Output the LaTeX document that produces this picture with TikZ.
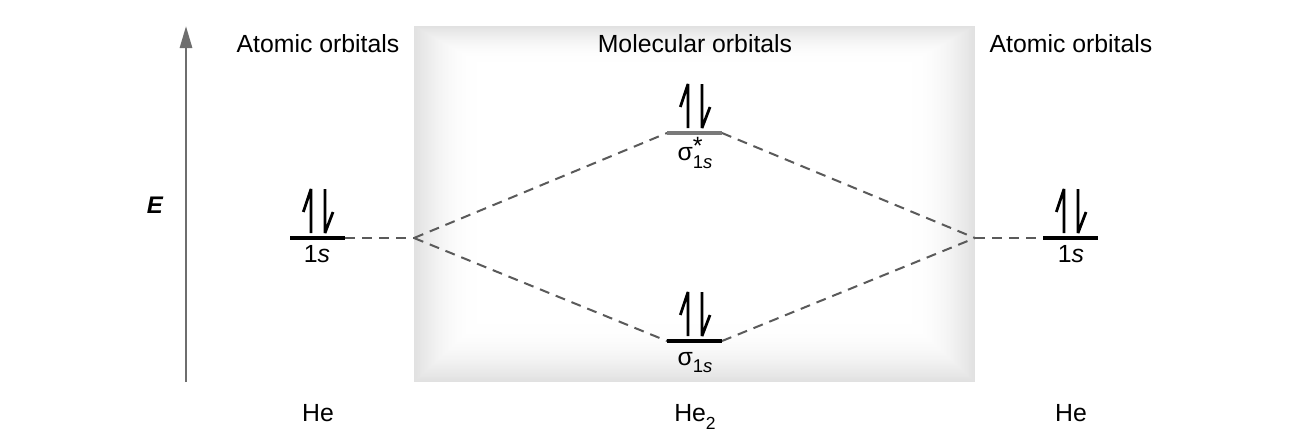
\documentclass[tikz,border=0pt]{standalone}
\usepackage{fontspec}
\setmainfont{Liberation Sans}
\usetikzlibrary{arrows.meta}
\begin{document}
\begin{tikzpicture}[x=1pt,y=-1pt,
  lbl/.style={font=\fontsize{24.8}{29}\selectfont, inner sep=0pt, anchor=base},
  level/.style={line width=4.5pt, black},
  levelstar/.style={line width=4.5pt, color={rgb,255:red,122;green,122;blue,122}},
  dashline/.style={line width=2pt, color={rgb,255:red,90;green,90;blue,90}, dash pattern=on 10pt off 7pt},
  spin/.style={line width=2.8pt, black, line join=bevel, line cap=butt},
  spinpair/.pic={
    \draw[spin] (21,-5) -- (21,-49) -- (13.3,-26);
    \draw[spin] (35,-49) -- (35,-5) -- (43,-26);
  }]
\useasboundingbox (0,0) rectangle (1300,439);
% shaded box
\fill[white] (414,26) rectangle (975,382);
\foreach \i in {0,...,45}{
  \pgfmathtruncatemacro\c{255-30*(1-\i/45)^2}
  \definecolor{boxtmp}{RGB}{\c,\c,\c}
  \fill[boxtmp] ({414+\i*1.4},{26+\i*0.8}) rectangle ({975-\i*1.4},{382-\i*1.3});
}
% energy axis
\coordinate (Ebot) at (186,382);
\coordinate (Etop) at (186,26);
\draw[line width=2.8pt, color={rgb,255:red,110;green,110;blue,110}, -{Triangle[length=22pt,width=12pt]}] (Ebot) -- (Etop);
\node[lbl, font=\fontsize{24}{28}\selectfont\bfseries\itshape] (E) at (155,213) {E};
% headings
\node[lbl] (hl) at (318,52) {Atomic orbitals};
\node[lbl] (hm) at (695,52) {Molecular orbitals};
\node[lbl] (hr) at (1071,52) {Atomic orbitals};
% level coordinates
\coordinate (Ll) at (290,238); \coordinate (Lr) at (345,238);
\coordinate (Rl) at (1043,238); \coordinate (Rr) at (1098,238);
\coordinate (Sl) at (667,341); \coordinate (Sr) at (722,341);
\coordinate (Tl) at (667,133); \coordinate (Tr) at (722,133);
\coordinate (Jl) at (414,238); \coordinate (Jr) at (975,238);
% dashed correlation lines
\draw[dashline] (Lr) -- (Jl);
\draw[dashline] (Jl) -- (Tl);
\draw[dashline] (Jl) -- (Sl);
\draw[dashline] (Tr) -- (Jr);
\draw[dashline] (Sr) -- (Jr);
\draw[dashline] (Jr) -- (Rl);
% levels
\draw[level] (Ll) -- (Lr);
\draw[level] (Rl) -- (Rr);
\draw[level] (Sl) -- (Sr);
\draw[levelstar] (Tl) -- (Tr);
% electrons
\pic at (Ll) {spinpair};
\pic at (Rl) {spinpair};
\pic at (Sl) {spinpair};
\pic at (Tl) {spinpair};
% level labels
\node[lbl] (l1s) at (317,262) {1\textit{s}};
\node[lbl] (r1s) at (1071,262) {1\textit{s}};
\node[lbl] (sig) at (695,365) {σ\raisebox{-0.3em}{\fontsize{18.5}{19}\selectfont 1\textit{s}}};
\node[lbl] (sigs) at (695,160) {σ\makebox[0pt][l]{\raisebox{0.22em}{\fontsize{25}{25}\selectfont *}}\raisebox{-0.36em}{\fontsize{18.5}{19}\selectfont 1\textit{s}}};
% atom labels
\node[lbl] (He1) at (318,421) {He};
\node[lbl] (He2) at (695,421) {He\raisebox{-0.35em}{\fontsize{17.5}{18}\selectfont 2}};
\node[lbl] (He3) at (1071,421) {He};
\end{tikzpicture}
\end{document}
